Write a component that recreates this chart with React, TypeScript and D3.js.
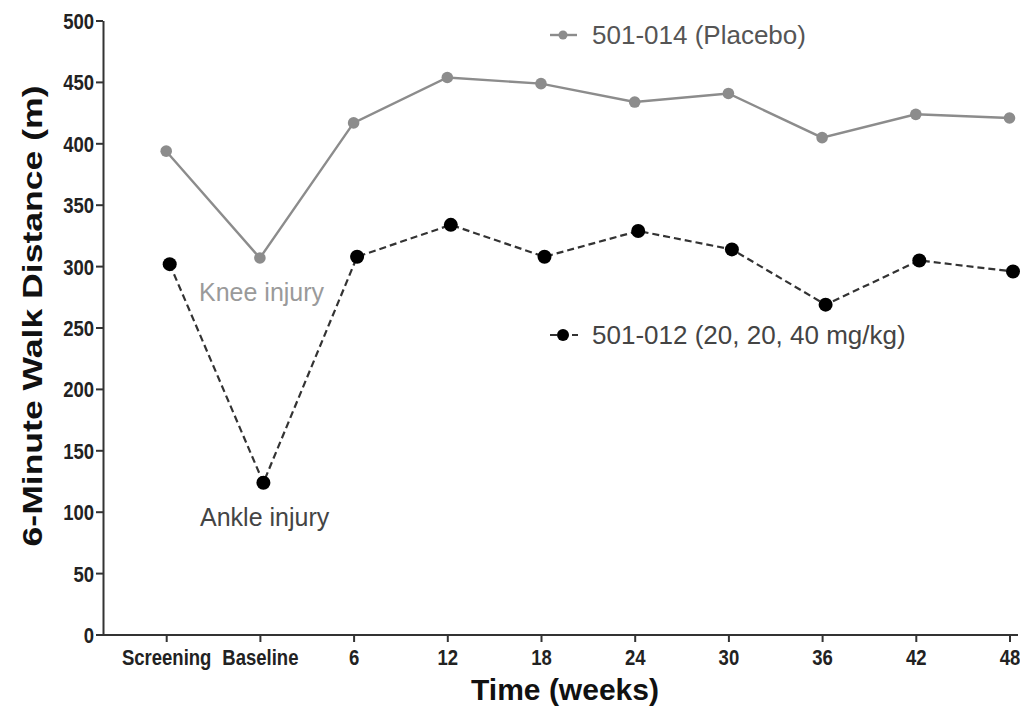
import React from "react";
import * as d3 from "d3";

const categories = ["Screening", "Baseline", "6", "12", "18", "24", "30", "36", "42", "48"];
const placebo = [394, 307, 417, 454, 449, 434, 441, 405, 424, 421];
const treated = [302, 124, 308, 334, 308, 329, 314, 269, 305, 296];
const yTicks = [0, 50, 100, 150, 200, 250, 300, 350, 400, 450, 500];
const placeboLabel = "501-014 (Placebo)";
const treatedLabel = "501-012 (20, 20, 40 mg/kg)";

const W = 1020;
const H = 706;
const FONT = "'Liberation Sans', Arial, sans-serif";

export default function App() {
  const x = d3.scalePoint<string>().domain(categories).range([166.7, 1010]);
  const y = d3.scaleLinear().domain([0, 500]).range([635, 21]);
  const lineFor = (dx: number) =>
    d3
      .line<number>()
      .x((_, i) => (x(categories[i]) as number) + dx)
      .y((d) => y(d));
  const pDx = -0.5;
  const tDx = 3;
  const axisColor = "#333";
  return (
    <svg
      width={W}
      height={H}
      style={{ position: "absolute", left: 0, top: 0, background: "#fff" }}
      fontFamily={FONT}
    >
      {/* axes */}
      <line x1={103.5} x2={103.5} y1={y(500)} y2={y(0) + 1} stroke={axisColor} strokeWidth={2} />
      <line x1={103.5} x2={1018} y1={y(0)} y2={y(0)} stroke={axisColor} strokeWidth={2} />
      {yTicks.map((t) => (
        <g key={t}>
          <line x1={96} x2={103} y1={y(t)} y2={y(t)} stroke={axisColor} strokeWidth={2} />
          <text
            transform={`translate(94,${y(t)}) scale(1,1.2)`}
            textAnchor="end"
            dy="0.36em"
            fontSize={18.5}
            fontWeight="bold"
            fill="#222"
          >
            {t}
          </text>
        </g>
      ))}
      {categories.map((c) => (
        <g key={c}>
          <line x1={x(c)} x2={x(c)} y1={y(0)} y2={y(0) + 7} stroke={axisColor} strokeWidth={2} />
          <text
            transform={`translate(${x(c)},${y(0) + 30}) scale(1,1.2)`}
            textAnchor="middle"
            fontSize={18.5}
            fontWeight="bold"
            fill="#222"
          >
            {c}
          </text>
        </g>
      ))}
      <text x={565} y={700} textAnchor="middle" fontSize={30} fontWeight="bold" fill="#111">
        Time (weeks)
      </text>
      <text
        transform={`translate(42,${316}) rotate(-90) scale(1.27,1)`}
        textAnchor="middle"
        fontSize={28}
        fontWeight="bold"
        fill="#111"
      >
        6-Minute Walk Distance (m)
      </text>

      {/* series lines */}
      <path d={lineFor(pDx)(placebo) || ""} fill="none" stroke="#8c8c8c" strokeWidth={2.4} />
      <path
        d={lineFor(tDx)(treated) || ""}
        fill="none"
        stroke="#333"
        strokeWidth={2.2}
        strokeDasharray="7,4"
      />
      {placebo.map((v, i) => (
        <circle key={"p" + i} cx={(x(categories[i]) as number) + pDx} cy={y(v)} r={5.8} fill="#8c8c8c" />
      ))}
      {treated.map((v, i) => (
        <circle key={"t" + i} cx={(x(categories[i]) as number) + tDx} cy={y(v)} r={7} fill="#000" />
      ))}

      {/* legend */}
      <line x1={550} x2={577} y1={35} y2={35} stroke="#8c8c8c" strokeWidth={2.4} />
      <circle cx={563} cy={35} r={4.5} fill="#8c8c8c" />
      <text x={592} y={44} fontSize={26} fill="#555">
        {placeboLabel}
      </text>
      <line x1={550} x2={578} y1={335} y2={335} stroke="#333" strokeWidth={2.2} strokeDasharray="7,4" />
      <circle cx={563} cy={335} r={6} fill="#000" />
      <text x={592} y={344} fontSize={26} fill="#444">
        {treatedLabel}
      </text>

      {/* annotations */}
      <text x={199} y={301} fontSize={25} fill="#9a9a9a">
        Knee injury
      </text>
      <text x={200} y={526} fontSize={25} fill="#444">
        Ankle injury
      </text>
    </svg>
  );
}
